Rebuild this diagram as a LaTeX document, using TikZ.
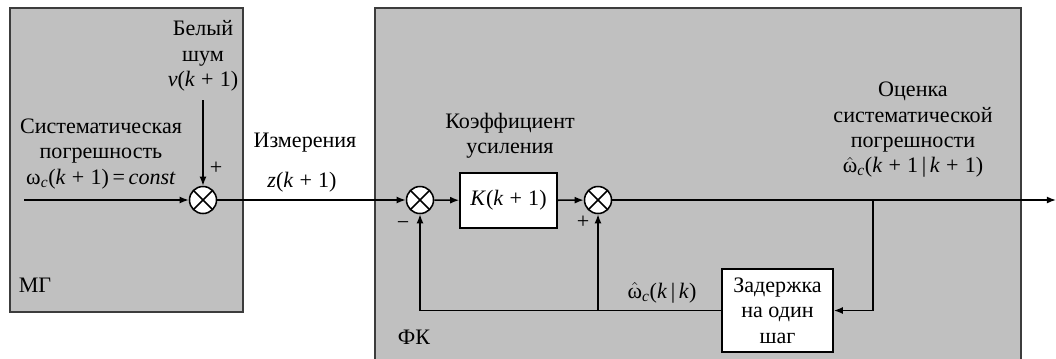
\documentclass[tikz,border=0pt]{standalone}
\usepackage{fontspec}
\setmainfont{Liberation Serif}
\definecolor{panelgray}{RGB}{192,192,192}
\definecolor{paneledge}{RGB}{60,60,60}
\usetikzlibrary{arrows.meta,positioning}
\newcommand{\hatw}{$\hat{\mbox{ω}}$}
\newcommand{\kpo}{\textit{k}\;+\;1}

\begin{document}
\begin{tikzpicture}[
  x=0.025cm, y=-0.025cm,
  every node/.style={font=\fontsize{15.7}{18}\selectfont},
  panel/.style={fill=panelgray,draw=paneledge,line width=1.6pt},
  wire/.style={line width=1.1pt},
  sig/.style={line width=1.1pt,-{Latex[length=6.5pt,width=5pt]}},
  blk/.style={draw,fill=white,line width=1.1pt,inner sep=0pt,align=center},
  summer/.style={draw,circle,fill=white,line width=1.1pt,minimum size=0.675cm,
    inner sep=0pt,path picture={
      \draw[line width=1.1pt] (path picture bounding box.north west) -- (path picture bounding box.south east)
        (path picture bounding box.north east) -- (path picture bounding box.south west);}},
]
  \useasboundingbox (0,0) rectangle (1056,358);
  % Panels
  \draw[panel] (10,8) rectangle (243,312);
  \draw[panel] (375,8) rectangle (1021,366);
  \node (mg) at (35,285) {МГ};
  \node (fk) at (414,337) {ФК};
  % Summing points and blocks
  \node[summer] (s1) at (203,200) {};
  \node[summer] (s2) at (420,200) {};
  \node[summer] (s3) at (598,200) {};
  \node[blk,minimum width=2.425cm,minimum height=1.375cm] (gain) at (508.5,200.5) {\textit{K}(\kpo)};
  \node[blk,minimum width=2.775cm,minimum height=2.075cm] (delay) at (777.5,310.5)
    {Задержка\\на один\\шаг};
  % Free ends and branch points
  \coordinate (in) at (24,200);
  \coordinate (noise) at (203,100);
  \coordinate (out) at (1056,200);
  \coordinate (br) at (873,200);
  \coordinate (brd) at (873,310.5);
  \coordinate (fb3) at (598,310.5);
  \coordinate (fb2) at (420,310.5);
  % Labels
  \node[align=center] (noiselbl) at (203,56) {Белый\\шум\\\textit{v}(\kpo)};
  \node[align=center] (errlbl) at (101,154)
    {Систематическая\\погрешность\\ω\textsubscript{\textit{c}}(\kpo)\,=\,\textit{const}};
  \node (pl1) at (216,168) {+};
  \node (meas) at (305,143) {Измерения};
  \node (measz) at (302,182) {\textit{z}(\kpo)};
  \node[align=center] (gainlbl) at (510,136) {Коэффициент\\усиления};
  \node (mi2) at (403,226) {−};
  \node (pl3) at (583,222) {+};
  \node (prevlbl) at (662,293) {\hatw\textsubscript{\textit{c}}(\textit{k}\,|\,\textit{k})};
  \node[align=center] (estlbl) at (913,130)
    {Оценка\\систематической\\погрешности\\\hatw\textsubscript{\textit{c}}(\kpo\,|\,\kpo)};
  % Signal paths
  \draw[sig] (in) -- (s1);
  \draw[sig] (noise) -- (s1);
  \draw[sig] (s1) -- (s2);
  \draw[sig] (s2) -- (gain);
  \draw[sig] (gain) -- (s3);
  \draw[sig] (s3) -- (out);
  \draw[sig] (br) -- (brd) -- (delay.east);
  \draw[wire] (delay.west) -- (fb2);
  \draw[sig] (fb3) -- (s3);
  \draw[sig] (fb2) -- (s2);
\end{tikzpicture}
\end{document}
